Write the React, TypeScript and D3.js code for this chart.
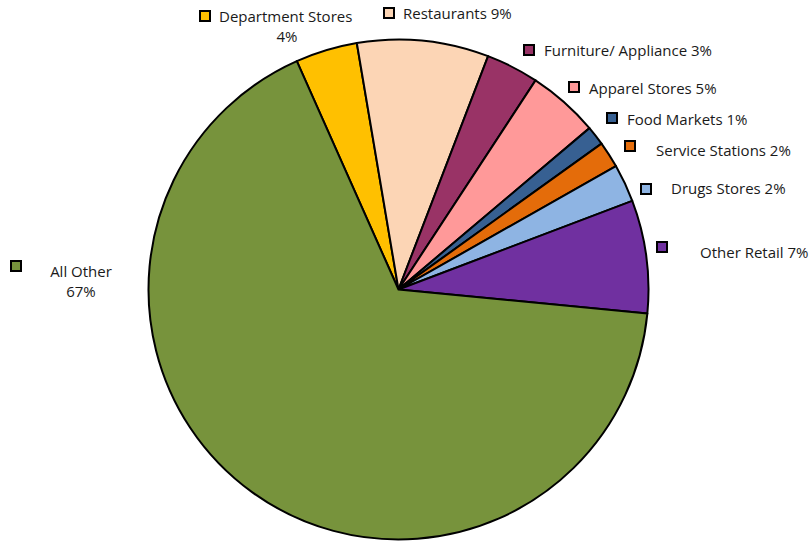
import React from "react";
import * as d3 from "d3";

const categories = [
  "Department Stores",
  "Restaurants",
  "Furniture/ Appliance",
  "Apparel Stores",
  "Food Markets",
  "Service Stations",
  "Drugs Stores",
  "Other Retail",
  "All Other",
];
const values = [4.0, 8.5, 3.4, 4.6, 1.25, 1.7, 2.45, 7.3, 66.8];
const colors = [
  "#FFC000",
  "#FCD5B5",
  "#993366",
  "#FF9999",
  "#376092",
  "#E46C0A",
  "#8EB4E3",
  "#7030A0",
  "#77933C",
];

// label layout: marker x,y ; text x, baseline ; whether percent on 2nd line
const labelPos = [
  { mx: 200, my: 11, tx: 219, ty: 22, two: true, px: 287, py: 42 },
  { mx: 384, my: 8, tx: 403, ty: 19 },
  { mx: 524, my: 45, tx: 544, ty: 56 },
  { mx: 569, my: 82, tx: 589, ty: 94 },
  { mx: 607, my: 113, tx: 627, ty: 125 },
  { mx: 625, my: 141, tx: 656, ty: 156 },
  { mx: 641, my: 184, tx: 671, ty: 194 },
  { mx: 657, my: 242, tx: 700, ty: 258 },
  { mx: 11, my: 261, tx: 81, ty: 277, two: true, px: 81, py: 297, center: true },
];

export default function App() {
  const width = 812;
  const height = 543;
  const cx = 398.5;
  const cy = 289.5;
  const r = 250;
  const total = d3.sum(values);
  const startA = (-24 * Math.PI) / 180;
  const pie = d3
    .pie<number>()
    .sort(null)
    .value((d) => d)
    .startAngle(startA)
    .endAngle(startA + 2 * Math.PI);
  const arcs = pie(values);
  const arc = d3.arc<d3.PieArcDatum<number>>().innerRadius(0).outerRadius(r);
  const font = "'Open Sans', 'Noto Sans', sans-serif";

  return (
    <svg
      width={width}
      height={height}
      style={{ position: "absolute", left: 0, top: 0, background: "#fff" }}
    >
      <g transform={`translate(${cx},${cy})`}>
        {arcs.map((a, i) => (
          <path
            key={i}
            d={arc(a) || ""}
            fill={colors[i]}
            stroke="#000"
            strokeWidth={2}
            strokeLinejoin="round"
          />
        ))}
      </g>
      {categories.map((c, i) => {
        const p = labelPos[i] as any;
        const pct = Math.round((values[i] / total) * 100) + "%";
        return (
          <g key={c} fontFamily={font} fontSize={15} fill="#1a1a1a">
            <rect
              x={p.mx}
              y={p.my}
              width={10}
              height={10}
              fill={colors[i]}
              stroke="#000"
              strokeWidth={2}
            />
            {p.two ? (
              <>
                <text x={p.tx} y={p.ty} textAnchor={p.center ? "middle" : "start"}>
                  {c}
                </text>
                <text x={p.px} y={p.py} textAnchor="middle">
                  {pct}
                </text>
              </>
            ) : (
              <text x={p.tx} y={p.ty}>
                {c + " " + pct}
              </text>
            )}
          </g>
        );
      })}
    </svg>
  );
}
